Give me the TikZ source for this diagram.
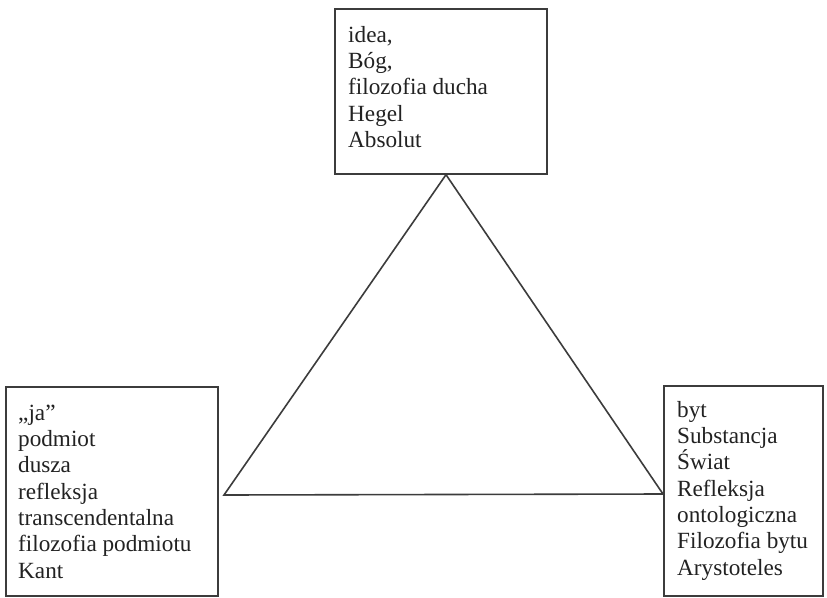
\documentclass[tikz,border=0pt]{standalone}
\usepackage{fontspec}
\setmainfont{Liberation Serif}
\definecolor{linec}{HTML}{3C3C3C}
\definecolor{textc}{HTML}{222222}
\begin{document}
\begin{tikzpicture}[x=1pt,y=-1pt,
  boxst/.style={draw=linec,line width=1.7pt,inner sep=0pt,anchor=north west},
  txt/.style={inner sep=0pt,anchor=north west,align=left,text=textc,
    font=\fontsize{23.2}{26.3}\selectfont},
  tri/.style={draw=linec,line width=1.6pt,line join=miter}]
\useasboundingbox[fill=white] (0,0) rectangle (827,597);
% boxes
\node[boxst,minimum width=212pt,minimum height=165pt] (topbox) at (334,8) {};
\node[boxst,minimum width=212pt,minimum height=209pt] (leftbox) at (5,386) {};
\node[boxst,minimum width=159pt,minimum height=210pt] (rightbox) at (663,385) {};
% texts
\node[txt] (toptext) at (348,25) {\rule{0pt}{17pt}idea,\\Bóg,\\filozofia ducha\\Hegel\\Absolut};
\node[txt] (lefttext) at (18,403) {\rule{0pt}{17pt},,ja''\\podmiot\\dusza\\refleksja\\transcendentalna\\filozofia podmiotu\\Kant};
\node[txt] (righttext) at (677,400) {\rule{0pt}{17pt}byt\\Substancja\\Świat\\Refleksja\\ontologiczna\\Filozofia bytu\\Arystoteles};
% triangle
\coordinate (apex) at (topbox.south -| 446,0);
\coordinate (bl) at (224,495);
\coordinate (br) at (rightbox.west |- 0,494);
\draw[tri] (apex) -- (bl) -- (br) -- cycle;
\end{tikzpicture}
\end{document}
